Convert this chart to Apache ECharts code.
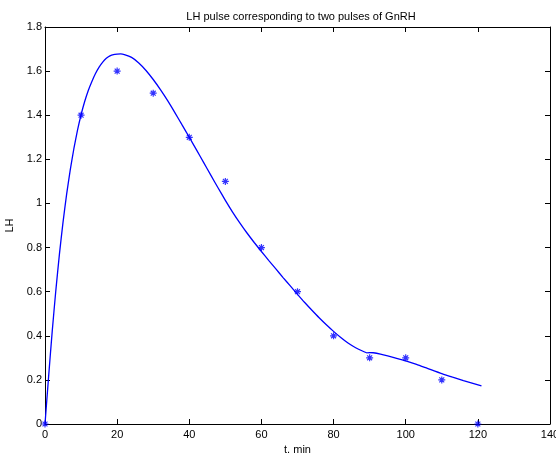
<!DOCTYPE html>
<html>
<head>
<meta charset="utf-8">
<script src="https://cdn.jsdelivr.net/npm/echarts@6/dist/echarts.min.js"></script>
<style>html,body{margin:0;padding:0;background:#fff}#c{width:556px;height:453px}</style>
</head>
<body>
<div id="c"></div>
<script>
// Measured samples (asterisks)
var sampleT = [0, 10, 20, 30, 40, 50, 60, 70, 80, 90, 100, 110, 120];
var sampleLH = [0, 1.4, 1.6, 1.5, 1.3, 1.1, 0.8, 0.6, 0.4, 0.3, 0.3, 0.2, 0];
// Model curve; first pulse up to the kink, then second pulse
var curveT1 = [0, 1, 2, 3, 4, 5, 6, 7, 8, 9, 10, 11, 12, 13, 14, 15, 16, 17, 18, 19, 20, 21, 22, 24, 26, 28, 30, 32, 34, 36, 38, 40, 42, 44, 46, 48, 50, 52, 54, 56, 58, 60, 62, 64, 66, 68, 70, 72, 74, 76, 78, 80, 82, 84, 86, 88, 89.3];
var curveLH1 = [0, 0.215, 0.42, 0.605, 0.77, 0.915, 1.042, 1.152, 1.248, 1.331, 1.402, 1.462, 1.512, 1.553, 1.589, 1.618, 1.641, 1.658, 1.669, 1.675, 1.677, 1.678, 1.675, 1.662, 1.637, 1.603, 1.562, 1.516, 1.466, 1.412, 1.356, 1.300, 1.243, 1.185, 1.127, 1.070, 1.014, 0.961, 0.912, 0.866, 0.823, 0.782, 0.742, 0.703, 0.664, 0.626, 0.588, 0.551, 0.516, 0.482, 0.45, 0.42, 0.392, 0.367, 0.347, 0.331, 0.322];
var curveT2 = [89.3, 90, 91, 93, 95, 97, 100, 103, 106, 110, 113, 116, 121];
var curveLH2 = [0.322, 0.324, 0.323, 0.317, 0.309, 0.3, 0.286, 0.27, 0.252, 0.228, 0.212, 0.197, 0.173];
var xTicks = [0, 20, 40, 60, 80, 100, 120, 140];
var yTicks = [0, 0.2, 0.4, 0.6, 0.8, 1, 1.2, 1.4, 1.6, 1.8];

var font = 'Liberation Sans, Arial, Helvetica, sans-serif';
var chart = echarts.init(document.getElementById('c'), null, {renderer: 'canvas'});
var lbl = {color: '#000', fontSize: 11, fontFamily: font};
function box(pos, isX, show) {
  return {
    type: 'value', position: pos,
    min: isX ? xTicks[0] : yTicks[0],
    max: isX ? xTicks[xTicks.length - 1] : yTicks[yTicks.length - 1],
    interval: isX ? 20 : 0.2,
    axisLine: {show: true, onZero: false, lineStyle: {color: '#000', width: 1}},
    axisTick: {show: true, inside: true, length: 5, lineStyle: {color: '#000'}},
    splitLine: {show: false},
    axisLabel: show ? Object.assign({show: true, margin: isX ? 5 : 3, hideOverlap: false,
      formatter: function (v) { return String(+v.toFixed(1)); }}, lbl) : {show: false}
  };
}
var xa = box('bottom', true, true);
xa.name = 't, min'; xa.nameLocation = 'middle'; xa.nameGap = 20;
xa.nameTextStyle = {color: '#000', fontSize: 11, fontFamily: font};
var xb = box('top', true, false);
var ya = box('left', false, true);
ya.name = 'LH'; ya.nameLocation = 'middle'; ya.nameGap = 26;
ya.nameTextStyle = {color: '#000', fontSize: 11, fontFamily: font};
var yb = box('right', false, false);

function pairs(a, b) { return a.map(function (t, i) { return [t, b[i]]; }); }
var lineStyle = {color: '#0000ff', width: 1.3};

chart.setOption({
  animation: false,
  backgroundColor: '#fff',
  title: {
    text: 'LH pulse corresponding to two pulses of GnRH',
    left: 296, top: 6, textAlign: 'center',
    textStyle: {color: '#000', fontSize: 11, fontWeight: 'normal', fontFamily: font}
  },
  grid: {left: 45, right: 6, top: 27, bottom: 29, containLabel: false, outerBoundsMode: 'none'},
  xAxis: [xa, xb],
  yAxis: [ya, yb],
  series: [
    {
      type: 'line', xAxisIndex: 0, yAxisIndex: 0,
      data: pairs(curveT1, curveLH1),
      showSymbol: false, symbol: 'none', smooth: 0.2,
      lineStyle: lineStyle, z: 3
    },
    {
      type: 'line', xAxisIndex: 0, yAxisIndex: 0,
      data: pairs(curveT2, curveLH2),
      showSymbol: false, symbol: 'none', smooth: 0.2,
      lineStyle: lineStyle, z: 3
    },
    {
      type: 'scatter', xAxisIndex: 0, yAxisIndex: 0,
      data: pairs(sampleT, sampleLH),
      symbol: 'path://M5,0L5,10M0,5L10,5M1.5,1.5L8.5,8.5M1.5,8.5L8.5,1.5',
      symbolSize: 7,
      itemStyle: {color: 'none', borderColor: '#0000ff', borderWidth: 1.2},
      z: 4
    }
  ]
});
</script>
</body>
</html>
